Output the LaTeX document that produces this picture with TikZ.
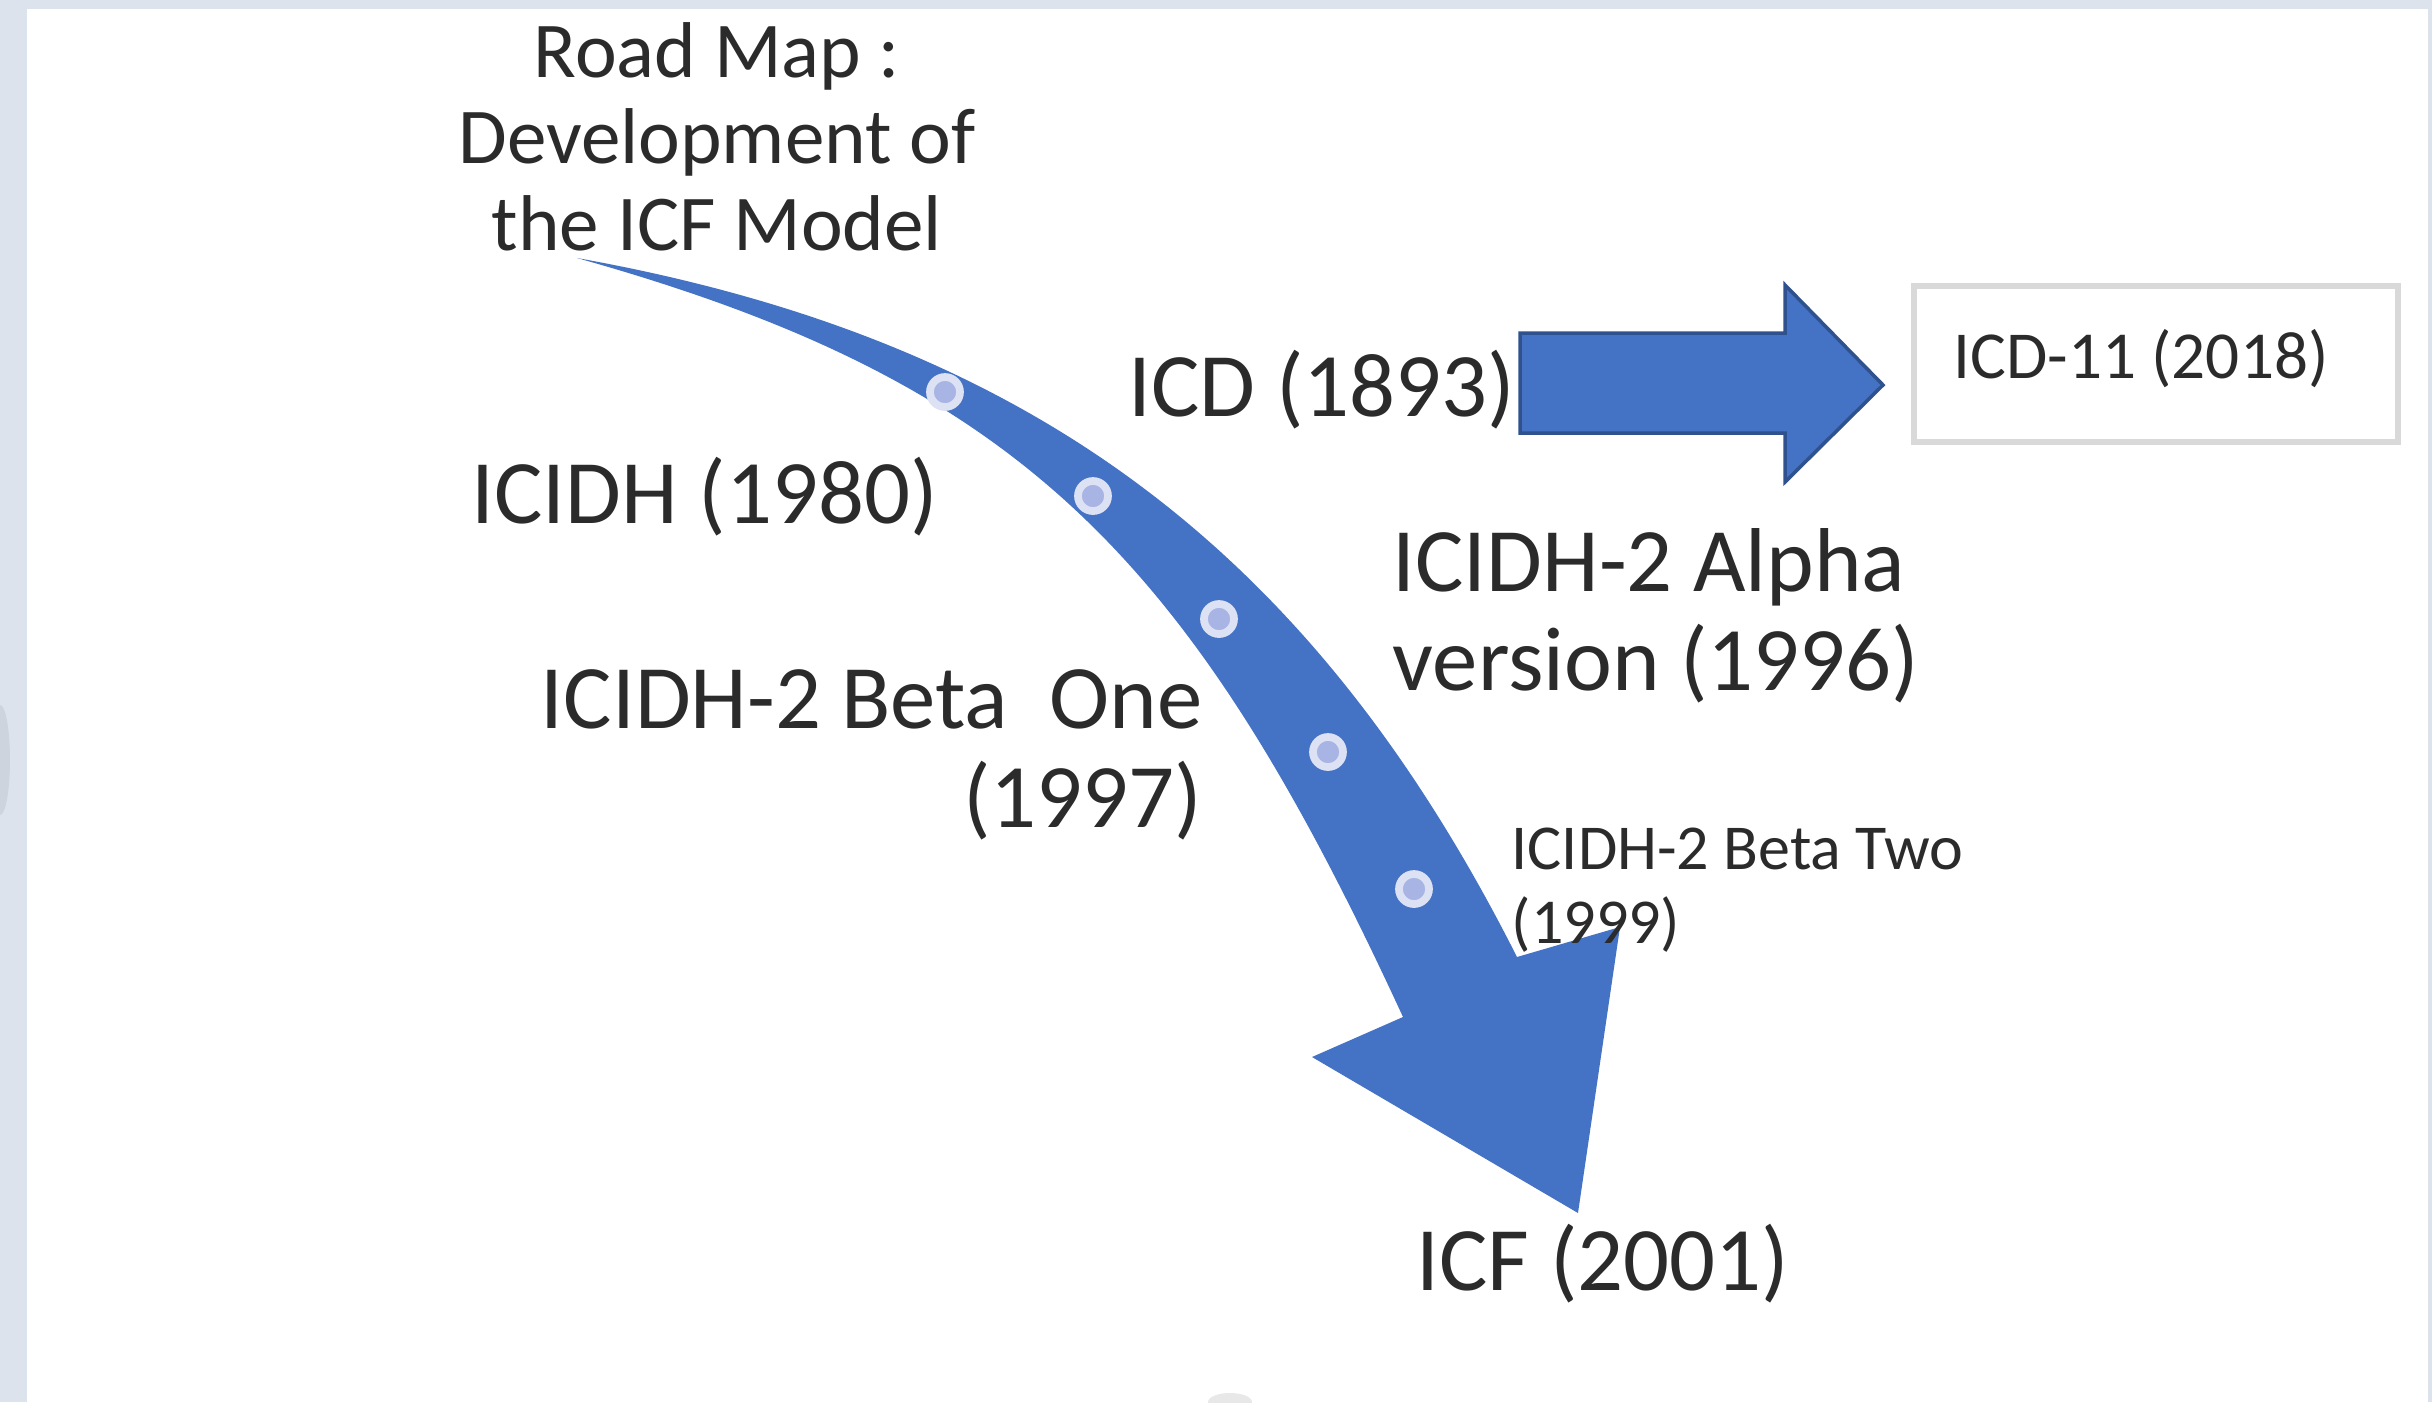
\documentclass[tikz,border=0pt]{standalone}
\usepackage{fontspec}
\setmainfont{Carlito}
\definecolor{framecol}{HTML}{DCE3ED}
\definecolor{arrowblue}{HTML}{4472C4}
\definecolor{arrowline}{HTML}{2F528F}
\definecolor{txt}{HTML}{2B2B2B}
\definecolor{boxline}{HTML}{D9D9D9}
\definecolor{dotring}{HTML}{DCE1F4}
\definecolor{dotcore}{HTML}{A8B4E4}
\begin{document}
\begin{tikzpicture}[x=0.01cm,y=-0.01cm,
  lbl/.style={inner sep=0pt, text=txt},
  bigtxt/.style={lbl, font=\fontsize{25.8}{27.9}\selectfont},
  smalltxt/.style={lbl, font=\fontsize{18.2}{20.8}\selectfont},
  roadtxt/.style={lbl, font=\fontsize{22.5}{24.5}\selectfont},
  dotmark/.style={fill=dotcore, draw=dotring, line width=2.2pt},
  blockarrow/.style={fill=arrowblue, draw=arrowline, line width=1pt, line join=miter},
  curvearrow/.style={fill=arrowblue}]
\useasboundingbox (0,0) rectangle (2432,1402);
% frame
\fill[framecol] (0,0) rectangle (2432,1402);
\fill[white] (27,9) rectangle (2428,1402);
\fill[framecol!85!gray] (0,760) ellipse (10 and 55);
\fill[gray!18] (1230,1402) ellipse (22 and 9);

% curved arrow
\fill[curvearrow] (577,258) .. controls (1029,339) and (1311,549) .. (1517,957)
  -- (1620,927) -- (1578,1213) -- (1312,1057) -- (1403,1017)
  .. controls (1190,555) and (1020,382) .. (577,258) -- cycle;

% dots on the curved arrow
\foreach \p in {(945,392),(1093,496),(1219,619),(1328,752),(1414,889)}
  \filldraw[dotmark] \p circle (15);

% texts
\node[roadtxt, align=center, anchor=base] (road) at (717,250) {Road Map :\\Development of\\the ICF Model};
\node[bigtxt, anchor=base west] (icd) at (1128,416) {ICD (1893)};
\node[bigtxt, anchor=base west] (icidh) at (471,523) {ICIDH (1980)};
\node[bigtxt, align=left, anchor=base west] (alpha) at (1392,690) {ICIDH-2 Alpha\\version (1996)};
\node[bigtxt, align=right, anchor=base east] (betaone) at (1203,827) {ICIDH-2 Beta\ \ One\\(1997)};
\node[smalltxt, align=left, anchor=base west] (betatwo) at (1511,943) {ICIDH-2 Beta Two\\(1999)};
\node[bigtxt, anchor=base west] (icf) at (1416,1290) {ICF (2001)};
\node[draw=boxline, line width=1.7pt, minimum width=4.83cm, minimum height=1.56cm,
      inner sep=0pt] (icd11box) at (2156,364) {};
\node[lbl, anchor=base west, font=\fontsize{19.1}{22}\selectfont] (icd11) at (1953,378) {ICD-11 (2018)};

% block arrow from ICD (1893) towards ICD-11
\filldraw[blockarrow] (1520,333) -- (1785,333) -- (1785,285) -- (1883,385)
  -- (1785,482) -- (1785,433) -- (1520,433) -- cycle;
\end{tikzpicture}
\end{document}
